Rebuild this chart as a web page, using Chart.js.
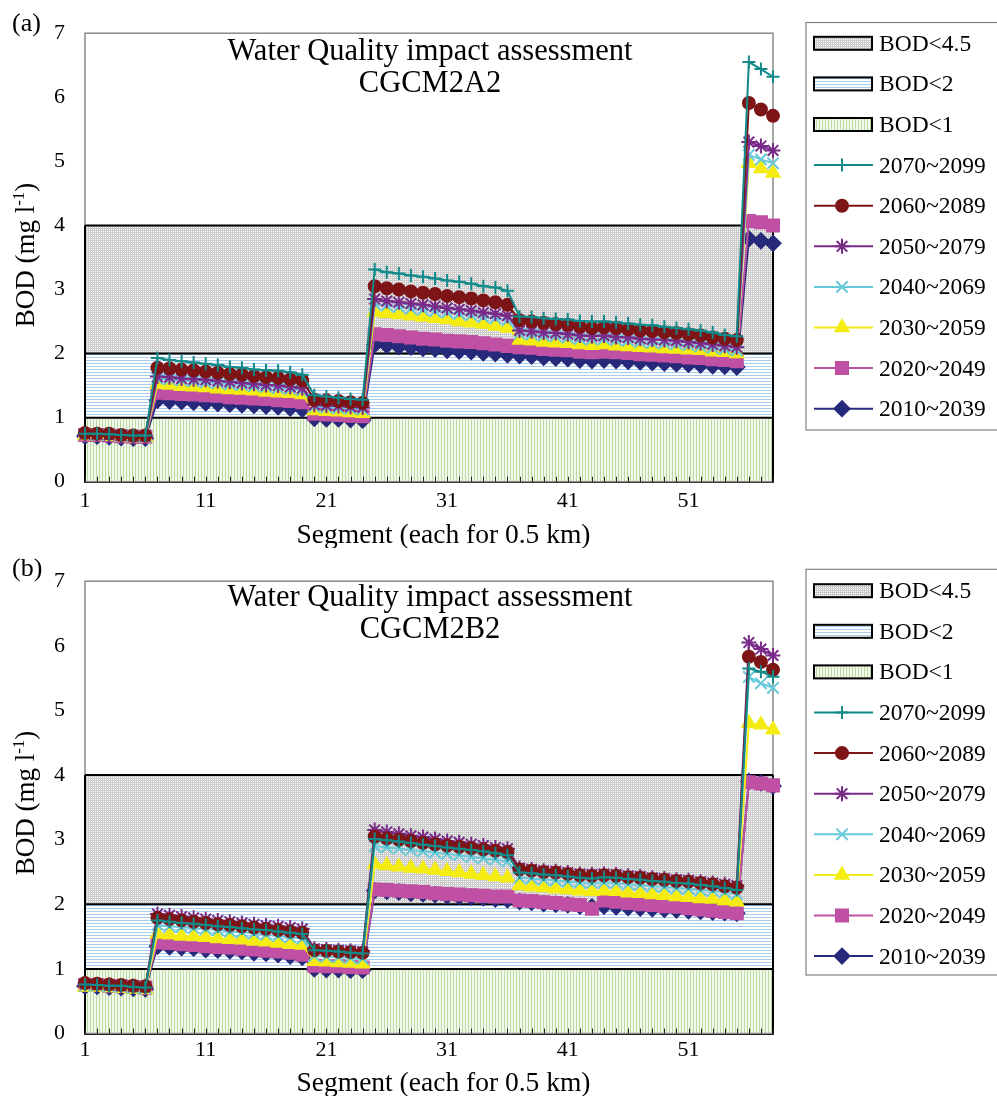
<!DOCTYPE html>
<html>
<head>
<meta charset="utf-8">
<script src="https://cdn.jsdelivr.net/npm/chart.js@4.4.1/dist/chart.umd.min.js"></script>
<style>
  html, body { margin: 0; padding: 0; background: #fff; }
  #page { position: relative; width: 997px; height: 1096px; overflow: hidden; }
  canvas { position: absolute; left: 0; }
</style>
</head>
<body>
<div id="page">
  <canvas id="chartA" width="997" height="548" style="top:0"></canvas>
  <canvas id="chartB" width="997" height="548" style="top:548px"></canvas>
</div>
<script>
const FONT = '"Liberation Serif", "Times New Roman", serif';

// categories / tick labels
const segments = Array.from({ length: 58 }, (_, i) => String(i + 1));
const labelledSegments = ['1', '11', '21', '31', '41', '51'];
const periods = ['2070~2099', '2060~2089', '2050~2079', '2040~2069', '2030~2059', '2020~2049', '2010~2039'];
const bandNames = ['BOD<4.5', 'BOD<2', 'BOD<1'];
const bandLimits = [4, 2, 1];

// (a) CGCM2A2
const a2070 = [0.75, 0.75, 0.74, 0.73, 0.72, 0.72,
  1.93, 1.90, 1.88, 1.86, 1.84, 1.82, 1.79, 1.78, 1.75, 1.74, 1.73, 1.71, 1.67,
  1.35, 1.33, 1.31, 1.29, 1.28,
  3.31, 3.27, 3.25, 3.22, 3.20, 3.17, 3.14, 3.12, 3.09, 3.05, 3.03, 2.98,
  2.58, 2.57, 2.55, 2.54, 2.53, 2.51, 2.50, 2.50, 2.49, 2.47, 2.45, 2.44, 2.42, 2.40, 2.38, 2.36, 2.33, 2.29, 2.27,
  6.55, 6.44, 6.32];
const a2060 = [0.76, 0.75, 0.75, 0.73, 0.72, 0.72,
  1.78, 1.77, 1.75, 1.74, 1.72, 1.70, 1.68, 1.67, 1.65, 1.63, 1.62, 1.60, 1.58,
  1.28, 1.27, 1.26, 1.24, 1.23,
  3.05, 3.02, 3.00, 2.97, 2.95, 2.93, 2.90, 2.88, 2.86, 2.83, 2.80, 2.76,
  2.52, 2.50, 2.48, 2.46, 2.45, 2.42, 2.40, 2.41, 2.40, 2.38, 2.36, 2.35, 2.33, 2.32, 2.30, 2.28, 2.25, 2.23, 2.21,
  5.91, 5.81, 5.71];
const a2050 = [0.74, 0.74, 0.73, 0.72, 0.71, 0.71,
  1.64, 1.63, 1.61, 1.60, 1.59, 1.57, 1.56, 1.54, 1.53, 1.51, 1.50, 1.48, 1.46,
  1.20, 1.19, 1.18, 1.17, 1.16,
  2.85, 2.82, 2.80, 2.78, 2.76, 2.74, 2.71, 2.69, 2.67, 2.64, 2.62, 2.59,
  2.36, 2.35, 2.33, 2.32, 2.30, 2.28, 2.27, 2.28, 2.26, 2.25, 2.23, 2.22, 2.21, 2.20, 2.18, 2.16, 2.14, 2.12, 2.10,
  5.30, 5.24, 5.17];
const a2040 = [0.74, 0.73, 0.73, 0.72, 0.71, 0.70,
  1.61, 1.60, 1.58, 1.57, 1.55, 1.54, 1.52, 1.51, 1.49, 1.48, 1.46, 1.45, 1.43,
  1.17, 1.16, 1.15, 1.14, 1.13,
  2.77, 2.75, 2.73, 2.70, 2.68, 2.66, 2.64, 2.62, 2.60, 2.57, 2.55, 2.52,
  2.31, 2.30, 2.28, 2.27, 2.25, 2.23, 2.22, 2.23, 2.21, 2.20, 2.18, 2.17, 2.16, 2.15, 2.13, 2.11, 2.09, 2.07, 2.05,
  5.10, 5.03, 4.97];
const a2030 = [0.72, 0.72, 0.71, 0.70, 0.69, 0.69,
  1.52, 1.51, 1.49, 1.48, 1.47, 1.45, 1.44, 1.43, 1.42, 1.40, 1.39, 1.38, 1.36,
  1.11, 1.10, 1.09, 1.08, 1.07,
  2.65, 2.63, 2.61, 2.59, 2.57, 2.55, 2.53, 2.50, 2.48, 2.46, 2.43, 2.40,
  2.21, 2.20, 2.18, 2.17, 2.16, 2.14, 2.13, 2.14, 2.12, 2.11, 2.10, 2.09, 2.08, 2.07, 2.06, 2.05, 2.03, 2.02, 2.00,
  4.97, 4.89, 4.82];
const a2020 = [0.73, 0.73, 0.72, 0.71, 0.70, 0.70,
  1.39, 1.38, 1.37, 1.36, 1.35, 1.34, 1.32, 1.31, 1.30, 1.29, 1.27, 1.26, 1.24,
  1.06, 1.05, 1.04, 1.03, 1.02,
  2.30, 2.29, 2.27, 2.25, 2.23, 2.22, 2.20, 2.19, 2.18, 2.16, 2.14, 2.12,
  2.10, 2.09, 2.07, 2.06, 2.05, 2.03, 2.02, 2.03, 2.02, 2.01, 1.99, 1.98, 1.97, 1.96, 1.94, 1.93, 1.91, 1.90, 1.88,
  4.07, 4.05, 4.00];
const a2010 = [0.71, 0.71, 0.70, 0.69, 0.68, 0.68,
  1.27, 1.26, 1.25, 1.24, 1.23, 1.22, 1.21, 1.20, 1.19, 1.18, 1.17, 1.15, 1.13,
  0.99, 0.98, 0.98, 0.97, 0.96,
  2.14, 2.13, 2.11, 2.10, 2.08, 2.07, 2.05, 2.04, 2.03, 2.01, 2.00, 1.98,
  1.97, 1.96, 1.94, 1.93, 1.92, 1.90, 1.89, 1.90, 1.89, 1.88, 1.87, 1.86, 1.85, 1.84, 1.83, 1.82, 1.81, 1.80, 1.79,
  3.79, 3.76, 3.72];

// (b) CGCM2B2
const b2070 = [0.76, 0.75, 0.74, 0.74, 0.72, 0.71,
  1.75, 1.73, 1.71, 1.70, 1.68, 1.66, 1.65, 1.63, 1.61, 1.60, 1.58, 1.56, 1.54,
  1.29, 1.28, 1.27, 1.25, 1.24,
  3.01, 2.99, 2.97, 2.95, 2.92, 2.90, 2.88, 2.86, 2.84, 2.82, 2.79, 2.76,
  2.49, 2.48, 2.46, 2.45, 2.43, 2.41, 2.40, 2.42, 2.41, 2.39, 2.38, 2.36, 2.35, 2.33, 2.32, 2.30, 2.28, 2.25, 2.22,
  5.65, 5.60, 5.52];
const b2060 = [0.78, 0.77, 0.76, 0.75, 0.74, 0.73,
  1.79, 1.77, 1.75, 1.73, 1.71, 1.69, 1.68, 1.66, 1.64, 1.62, 1.60, 1.58, 1.56,
  1.29, 1.28, 1.27, 1.26, 1.25,
  3.05, 3.02, 3.00, 2.98, 2.95, 2.93, 2.91, 2.89, 2.87, 2.85, 2.83, 2.81,
  2.54, 2.52, 2.50, 2.49, 2.47, 2.45, 2.44, 2.45, 2.44, 2.42, 2.41, 2.39, 2.38, 2.36, 2.35, 2.33, 2.31, 2.28, 2.26,
  5.83, 5.75, 5.63];
const b2050 = [0.77, 0.76, 0.75, 0.74, 0.73, 0.72,
  1.85, 1.83, 1.81, 1.79, 1.77, 1.75, 1.73, 1.71, 1.69, 1.67, 1.66, 1.64, 1.62,
  1.31, 1.30, 1.29, 1.28, 1.27,
  3.15, 3.12, 3.09, 3.06, 3.04, 3.01, 2.98, 2.96, 2.93, 2.91, 2.88, 2.86,
  2.56, 2.54, 2.52, 2.51, 2.49, 2.47, 2.46, 2.47, 2.46, 2.44, 2.43, 2.41, 2.40, 2.38, 2.37, 2.35, 2.33, 2.31, 2.29,
  6.05, 5.95, 5.85];
const b2040 = [0.74, 0.74, 0.73, 0.72, 0.71, 0.70,
  1.68, 1.66, 1.65, 1.63, 1.62, 1.60, 1.58, 1.57, 1.55, 1.53, 1.51, 1.49, 1.47,
  1.20, 1.19, 1.18, 1.17, 1.16,
  2.90, 2.88, 2.86, 2.84, 2.82, 2.80, 2.78, 2.76, 2.73, 2.71, 2.69, 2.66,
  2.41, 2.40, 2.38, 2.37, 2.35, 2.34, 2.33, 2.34, 2.33, 2.31, 2.30, 2.28, 2.27, 2.25, 2.24, 2.22, 2.21, 2.19, 2.16,
  5.52, 5.42, 5.35];
const b2030 = [0.72, 0.72, 0.71, 0.70, 0.69, 0.68,
  1.54, 1.53, 1.51, 1.50, 1.49, 1.47, 1.46, 1.45, 1.43, 1.42, 1.40, 1.38, 1.37,
  1.12, 1.11, 1.10, 1.09, 1.08,
  2.62, 2.60, 2.58, 2.56, 2.55, 2.53, 2.51, 2.49, 2.47, 2.45, 2.43, 2.41,
  2.29, 2.27, 2.26, 2.24, 2.23, 2.21, 2.20, 2.21, 2.20, 2.18, 2.17, 2.15, 2.14, 2.12, 2.11, 2.09, 2.08, 2.06, 2.04,
  4.80, 4.78, 4.70];
const b2020 = [0.75, 0.75, 0.74, 0.73, 0.72, 0.71,
  1.41, 1.40, 1.38, 1.37, 1.35, 1.34, 1.33, 1.31, 1.30, 1.28, 1.27, 1.25, 1.22,
  1.05, 1.04, 1.04, 1.03, 1.02,
  2.23, 2.22, 2.21, 2.20, 2.19, 2.17, 2.16, 2.15, 2.14, 2.13, 2.12, 2.12,
  2.06, 2.05, 2.03, 2.02, 2.00, 1.99, 1.93, 2.06, 2.04, 2.02, 2.00, 1.99, 1.97, 1.96, 1.94, 1.92, 1.90, 1.88, 1.86,
  3.89, 3.87, 3.84];
const b2010 = [0.73, 0.73, 0.72, 0.71, 0.70, 0.69,
  1.35, 1.34, 1.33, 1.32, 1.30, 1.29, 1.28, 1.27, 1.25, 1.24, 1.22, 1.20, 1.18,
  1.00, 0.99, 0.99, 0.98, 0.98,
  2.21, 2.20, 2.19, 2.17, 2.16, 2.15, 2.13, 2.12, 2.11, 2.10, 2.08, 2.07,
  2.04, 2.03, 2.01, 2.00, 1.99, 1.97, 1.96, 1.97, 1.96, 1.95, 1.94, 1.93, 1.92, 1.91, 1.90, 1.89, 1.88, 1.87, 1.86,
  3.90, 3.88, 3.83];

// styles
const seriesColors = ['#128a8a', '#7d1416', '#7a2a88', '#66c9da', '#f4ec12', '#bf50a3', '#27297a'];
const seriesStyles = ['cross', 'circle', 'star', 'crossRot', 'triangle', 'rect', 'rectRot'];
const seriesRadius = [6.5, 6, 7.5, 8, 7.5, 8.5, 7.5];

function makePatterns(ctx) {
  function tile(w, h, paint) {
    const c = document.createElement('canvas');
    c.width = w; c.height = h;
    paint(c.getContext('2d'));
    return ctx.createPattern(c, 'repeat');
  }
  return [
    tile(2, 2, g => { g.fillStyle = '#fff'; g.fillRect(0, 0, 2, 2); g.fillStyle = '#cacaca'; g.fillRect(0, 0, 2, 1); g.fillRect(0, 0, 1, 2); }),
    tile(1, 3, g => { g.fillStyle = '#fff'; g.fillRect(0, 0, 1, 3); g.fillStyle = '#a9cdef'; g.fillRect(0, 0, 1, 1); }),
    tile(3, 1, g => { g.fillStyle = '#f3f8ec'; g.fillRect(0, 0, 3, 1); g.fillStyle = '#bcdba2'; g.fillRect(0, 0, 1, 1); })
  ];
}

function drawMarker(ctx, i, x, y) {
  ctx.save();
  ctx.fillStyle = seriesColors[i];
  ctx.strokeStyle = seriesColors[i];
  ctx.lineWidth = 2;
  Chart.helpers.drawPoint(ctx, { pointStyle: seriesStyles[i], radius: seriesRadius[i], rotation: 0, borderWidth: 2 }, x, y);
  ctx.restore();
}

const decor = {
  id: 'decor',
  beforeDatasetsDraw(chart, args, opts) {
    const { ctx, chartArea: ca, scales: { x, y } } = chart;
    ctx.save();
    // plot frame
    ctx.strokeStyle = '#8a8a8a';
    ctx.lineWidth = 1.5;
    ctx.strokeRect(ca.left, ca.top, ca.right - ca.left, ca.bottom - ca.top);
    // band side edges
    ctx.strokeStyle = '#000';
    ctx.lineWidth = 2;
    const y4 = y.getPixelForValue(bandLimits[0]);
    ctx.beginPath();
    ctx.moveTo(ca.left, y4); ctx.lineTo(ca.left, ca.bottom);
    ctx.moveTo(ca.right, y4); ctx.lineTo(ca.right, ca.bottom);
    ctx.stroke();
    // minor ticks on every segment
    ctx.lineWidth = 1;
    ctx.strokeStyle = '#222';
    ctx.beginPath();
    segments.forEach((s, i) => {
      const px = Math.round(x.getPixelForValue(i)) + 0.5;
      ctx.moveTo(px, ca.bottom);
      ctx.lineTo(px, ca.bottom - 5);
    });
    ctx.stroke();
    ctx.restore();
  },
  afterDraw(chart, args, opts) {
    const { ctx } = chart;
    ctx.save();
    ctx.fillStyle = '#000';
    // panel tag
    ctx.font = '26px ' + FONT;
    ctx.textAlign = 'left';
    ctx.textBaseline = 'alphabetic';
    ctx.fillText(opts.tag, 12, opts.tagBase);
    // inner title
    ctx.font = '30.5px ' + FONT;
    ctx.textAlign = 'center';
    ctx.fillText('Water Quality impact assessment', 430, opts.titleBase);
    ctx.fillText(opts.scenario, 430, opts.titleBase + 32);
    // x axis title
    ctx.font = '27.5px ' + FONT;
    ctx.fillText('Segment (each for 0.5 km)', 443.5, opts.xTitleBase);
    // y axis title with superscript
    ctx.translate(34, 255);
    ctx.rotate(-Math.PI / 2);
    ctx.textAlign = 'left';
    const big = '27px ' + FONT, small = '17px ' + FONT;
    ctx.font = big;
    const w1 = ctx.measureText('BOD (mg l').width;
    const w3 = ctx.measureText(')').width;
    ctx.font = small;
    const w2 = ctx.measureText('-1').width;
    let cx = -(w1 + w2 + w3) / 2;
    ctx.font = big;
    ctx.fillText('BOD (mg l', cx, 0);
    cx += w1;
    ctx.font = small;
    ctx.fillText('-1', cx, -10);
    cx += w2;
    ctx.font = big;
    ctx.fillText(')', cx, 0);
    ctx.restore();

    // legend
    ctx.save();
    const lx = 806, top = opts.legendTop;
    ctx.strokeStyle = '#808080';
    ctx.lineWidth = 1.2;
    ctx.strokeRect(lx, top, 220, opts.legendBottom - top);
    const pats = chart.canvas.$patterns;
    ctx.font = '23.5px ' + FONT;
    ctx.textAlign = 'left';
    ctx.textBaseline = 'alphabetic';
    const items = bandNames.concat(periods);
    items.forEach((name, k) => {
      const cy = opts.legendFirst + k * 40.6;
      if (k < 3) {
        ctx.fillStyle = pats[k];
        ctx.fillRect(814, cy - 6.5, 58, 13);
        ctx.strokeStyle = '#000';
        ctx.lineWidth = 2;
        ctx.strokeRect(814, cy - 6.5, 58, 13);
      } else {
        const i = k - 3;
        ctx.strokeStyle = seriesColors[i];
        ctx.lineWidth = 2;
        ctx.beginPath();
        ctx.moveTo(814, cy); ctx.lineTo(873, cy);
        ctx.stroke();
        drawMarker(ctx, i, 842, cy);
      }
      ctx.fillStyle = '#000';
      ctx.fillText(name, 879, cy + 7.5);
    });
    ctx.restore();
  }
};

function makePanel(id, series, geo) {
  const canvas = document.getElementById(id);
  const ctx = canvas.getContext('2d');
  const patterns = makePatterns(ctx);
  canvas.$patterns = patterns;
  const lines = series.map((data, i) => ({
    label: periods[i],
    data,
    borderColor: seriesColors[i],
    backgroundColor: seriesColors[i],
    borderWidth: 2,
    pointStyle: seriesStyles[i],
    pointRadius: seriesRadius[i],
    pointBorderWidth: 2,
    pointBackgroundColor: seriesColors[i],
    pointBorderColor: seriesColors[i],
    fill: false,
    tension: 0,
    clip: false,
    order: i
  }));
  const bands = bandNames.map((name, i) => ({
    label: name,
    data: segments.map(() => bandLimits[i]),
    borderColor: '#000',
    borderWidth: 2,
    pointRadius: 0,
    backgroundColor: patterns[i],
    fill: i < 2 ? '+1' : 'origin',
    tension: 0,
    order: 20
  }));
  return new Chart(ctx, {
    type: 'line',
    data: { labels: segments, datasets: lines.concat(bands) },
    options: {
      responsive: false,
      animation: false,
      events: [],
      layout: { padding: { top: geo.top, right: 224, bottom: 0, left: 0 } },
      plugins: {
        legend: { display: false },
        tooltip: { enabled: false },
        filler: { drawTime: 'beforeDatasetsDraw' },
        decor: geo
      },
      scales: {
        x: {
          type: 'category',
          offset: false,
          grid: { display: false, drawTicks: false },
          border: { display: true, color: '#000', width: 2 },
          ticks: {
            autoSkip: false, maxRotation: 0, minRotation: 0,
            padding: geo.tickPad,
            color: '#000',
            font: { family: FONT, size: 22 },
            callback: (v, i) => labelledSegments.includes(segments[i]) ? segments[i] : ''
          },
          afterFit: s => { s.height = 548 - geo.bottom; }
        },
        y: {
          min: 0, max: 7,
          grid: { display: false, drawTicks: false },
          border: { display: false },
          ticks: { stepSize: 1, padding: 20, color: '#000', font: { family: FONT, size: 22 } },
          afterFit: s => { s.width = 85; }
        }
      }
    },
    plugins: [decor]
  });
}

makePanel('chartA', [a2070, a2060, a2050, a2040, a2030, a2020, a2010],
  { tag: '(a)', scenario: 'CGCM2A2', top: 24, bottom: 481.7, tickPad: 6, xTitleBase: 543, tagBase: 30.5, titleBase: 60,
    legendTop: 22.5, legendBottom: 430, legendFirst: 43.3 });
makePanel('chartB', [b2070, b2060, b2050, b2040, b2030, b2020, b2010],
  { tag: '(b)', scenario: 'CGCM2B2', top: 21, bottom: 485.5, tickPad: 4, xTitleBase: 543, tagBase: 28, titleBase: 57.5,
    legendTop: 21.3, legendBottom: 427, legendFirst: 42.7 });
</script>
</body>
</html>
